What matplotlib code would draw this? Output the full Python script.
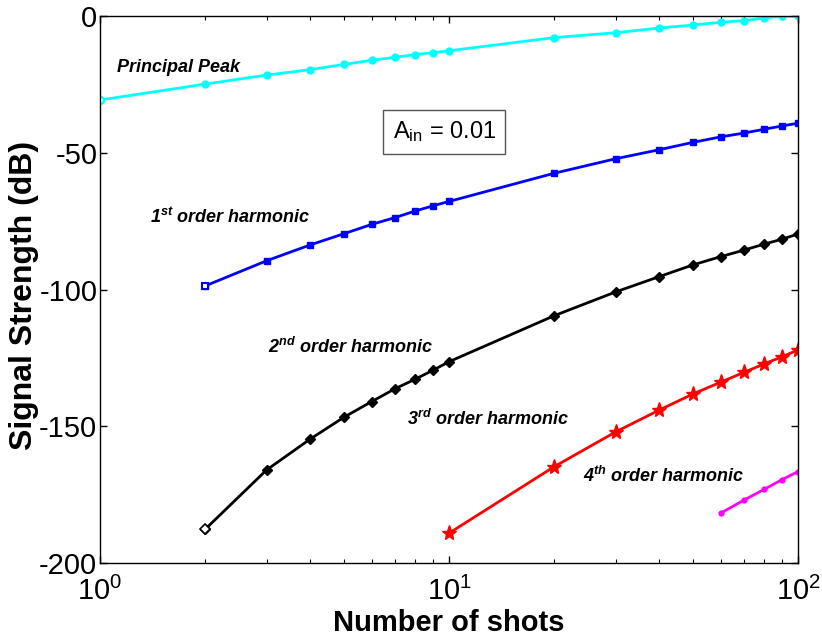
import matplotlib
matplotlib.use('Agg')
import matplotlib.pyplot as plt

# 글꼴 설정 (Arial 계열)
plt.rcParams['font.family'] = ['Liberation Sans', 'DejaVu Sans']
plt.rcParams['mathtext.fontset'] = 'custom'
plt.rcParams['mathtext.rm'] = 'Liberation Sans'
plt.rcParams['mathtext.it'] = 'Liberation Sans:italic:bold'
plt.rcParams['mathtext.bf'] = 'Liberation Sans:bold'
plt.rcParams['axes.unicode_minus'] = False

# 샷 수
shots_all = [1, 2, 3, 4, 5, 6, 7, 8, 9, 10, 20, 30, 40, 50, 60, 70, 80, 90, 100]
shots_2 = [2, 3, 4, 5, 6, 7, 8, 9, 10, 20, 30, 40, 50, 60, 70, 80, 90, 100]
shots_10 = [10, 20, 30, 40, 50, 60, 70, 80, 90, 100]
shots_60 = [60, 70, 80, 90, 100]

# 신호 세기 (dB)
principal = [-30.7, -24.9, -21.6, -19.6, -17.7, -16.2, -15.1, -14.1, -13.4, -12.7,
             -7.9, -6.1, -4.4, -3.3, -2.3, -1.7, -0.7, -0.1, 0.0]
harm1 = [-98.7, -89.5, -83.7, -79.6, -76.2, -73.7, -71.3, -69.4, -67.8,
         -57.5, -52.2, -48.9, -46.2, -44.2, -42.8, -41.4, -40.2, -39.2]
harm2 = [-187.7, -166.0, -154.7, -146.7, -141.0, -136.3, -132.8, -129.5, -126.4,
         -109.6, -100.9, -95.3, -91.0, -88.0, -85.6, -83.4, -81.6, -79.7]
harm3 = [-189.1, -164.8, -152.1, -144.1, -138.2, -133.9, -130.3, -127.2, -124.6, -122.1]
harm4 = [-181.8, -177.0, -173.1, -169.5, -166.6]

fig = plt.figure(figsize=(8.22, 6.41), dpi=100)
ax = fig.add_axes([0.1217, 0.1217, 0.8491, 0.8533])

# 곡선 그리기 (첫 점은 속이 빈 마커)
ax.plot(shots_all, principal, '-o', color='cyan', lw=2.0, ms=5)
ax.plot(shots_all[:1], principal[:1], 'o', color='cyan', mfc='white', mew=1.5, ms=5)

ax.plot(shots_2, harm1, '-s', color='blue', lw=2.0, ms=5)
ax.plot(shots_2[:1], harm1[:1], 's', color='blue', mfc='white', mew=1.5, ms=5)

ax.plot(shots_2, harm2, '-D', color='black', lw=2.0, ms=5)
ax.plot(shots_2[:1], harm2[:1], 'D', color='black', mfc='white', mew=1.2, ms=5)

ax.plot(shots_10, harm3, '-*', color='red', lw=2.0, ms=11)
ax.plot(shots_60, harm4, '-o', color='magenta', lw=2.0, ms=3.5)

ax.set_xscale('log')
ax.set_xlim(1, 100)
ax.set_ylim(-200, 0)
ax.set_yticks([-200, -150, -100, -50, 0])

ax.tick_params(which='both', direction='in', top=True, right=True, labelsize=21)
ax.tick_params(which='major', length=5, width=1)
ax.tick_params(which='minor', length=3, width=0.8)
ax.tick_params(axis='x', pad=10)
ax.tick_params(axis='y', pad=2)
for sp in ax.spines.values():
    sp.set_linewidth(1.0)

ax.set_xlabel('Number of shots', fontsize=21, fontweight='bold', labelpad=2)
ax.set_ylabel('Signal Strength (dB)', fontsize=23, fontweight='bold')
ax.yaxis.set_label_coords(-0.088, 0.49)

# 곡선 이름
lab = dict(fontsize=13, fontweight='bold', style='italic', ha='left', va='baseline')
ax.text(1.118, -20.5, 'Principal Peak', **lab)
ax.text(1.39, -75.7, '1$^{st}$ order harmonic', **lab)
ax.text(3.03, -123.1, '2$^{nd}$ order harmonic', **lab)
ax.text(7.59, -149.4, '3$^{rd}$ order harmonic', **lab)
ax.text(24.2, -170.3, '4$^{th}$ order harmonic', **lab)

ax.text(9.7, -42.4, r'A$_{\mathrm{in}}$ = 0.01', fontsize=17, ha='center', va='center',
        bbox=dict(boxstyle='square,pad=0.4', fc='white', ec='#555555', lw=1))

plt.savefig('out.png', dpi=100)
